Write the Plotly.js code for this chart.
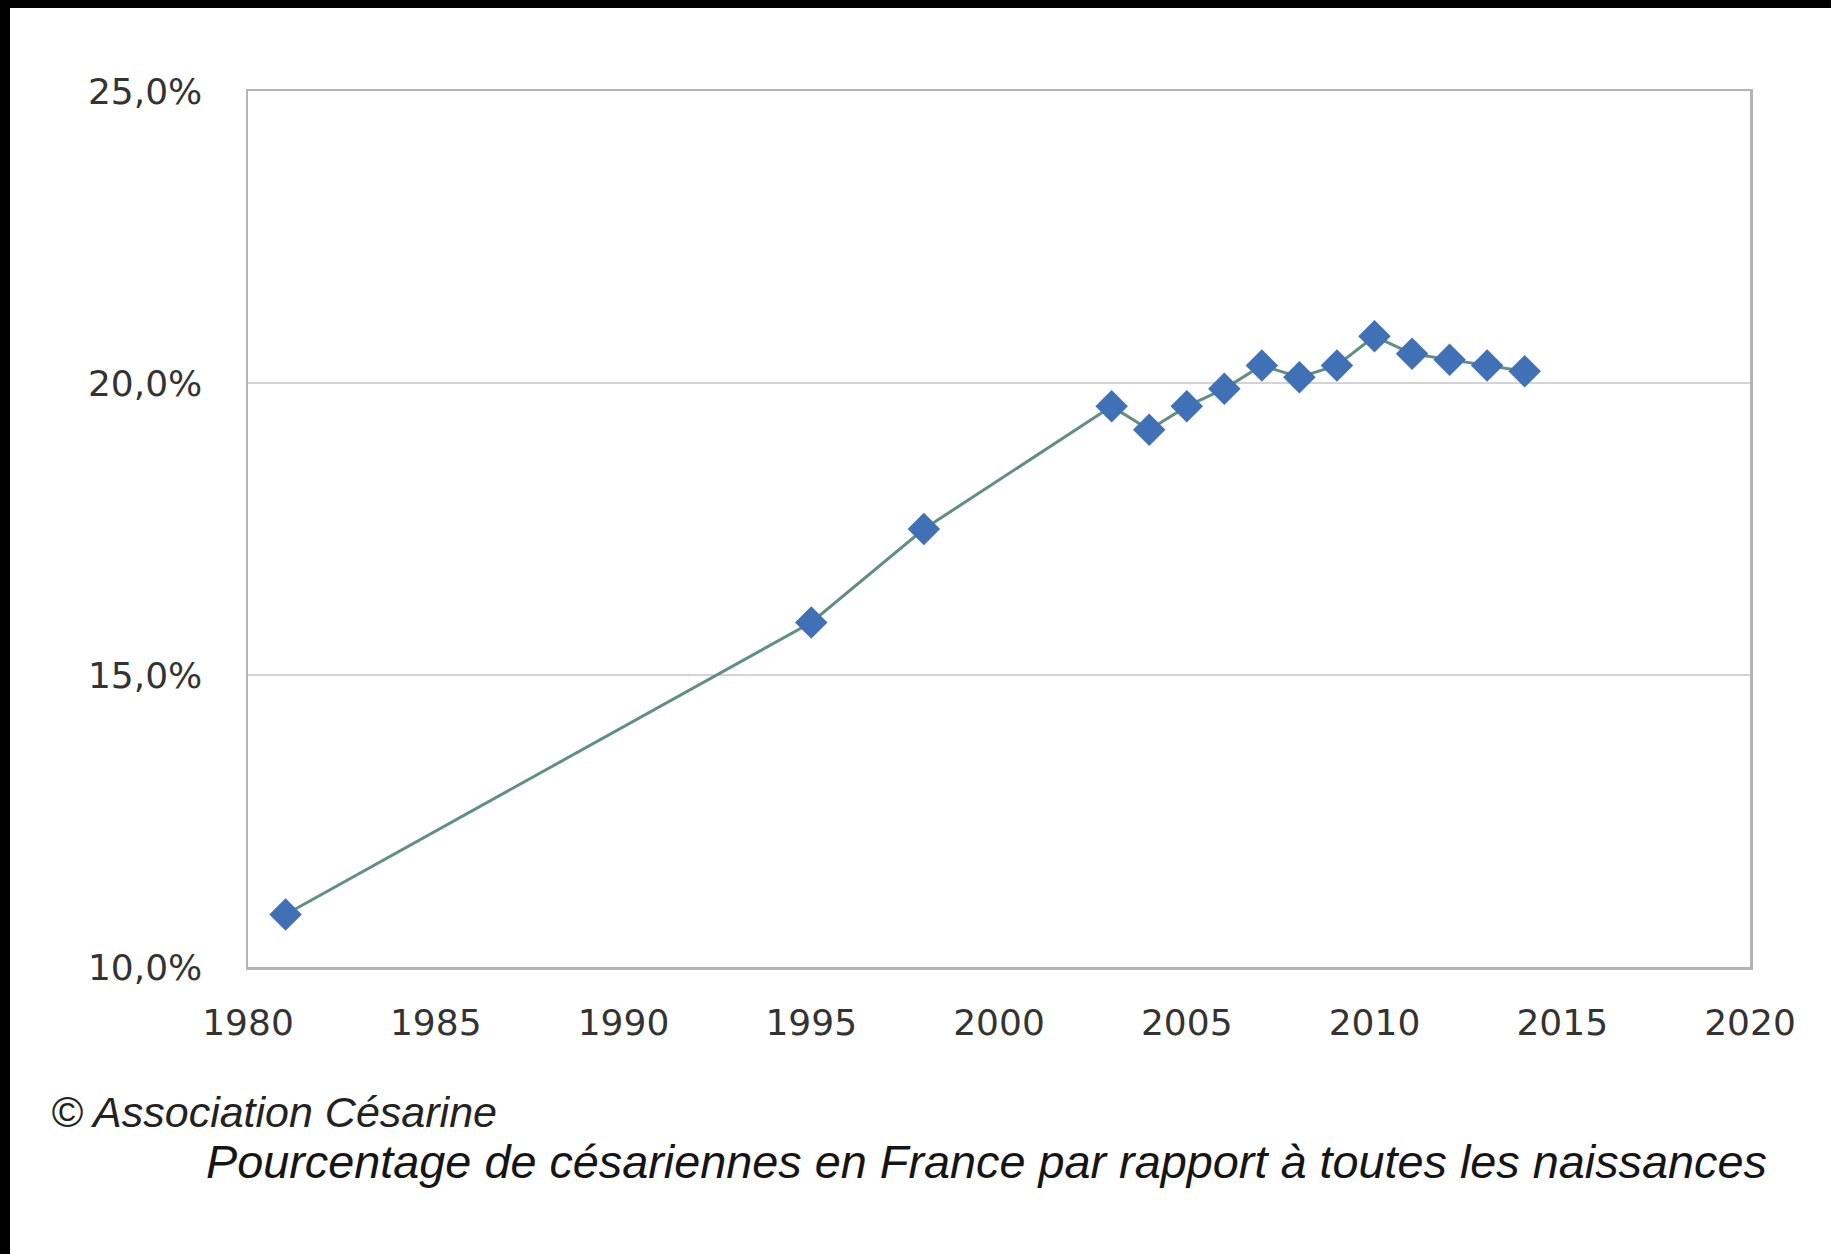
<!DOCTYPE html>
<html>
<head>
<meta charset="utf-8">
<script src="https://cdn.plot.ly/plotly-3.0.1.min.js"></script>
<style>
  html, body { margin: 0; padding: 0; background: #000; width: 1831px; height: 1254px; overflow: hidden; }
  #chart { position: absolute; left: 10px; top: 8px; width: 1821px; height: 1246px; background: #fff; }
</style>
</head>
<body>
<div id="chart"></div>
<script>
// Data
const years = [1981, 1995, 1998, 2003, 2004, 2005, 2006, 2007, 2008, 2009, 2010, 2011, 2012, 2013, 2014];
const cesareanPct = [10.9, 15.9, 17.5, 19.6, 19.2, 19.6, 19.9, 20.3, 20.1, 20.3, 20.8, 20.5, 20.4, 20.3, 20.2];
const xTickVals = [1980, 1985, 1990, 1995, 2000, 2005, 2010, 2015, 2020];
const yTickVals = [10, 15, 20, 25];
const yTickText = ["10,0%", "15,0%", "20,0%", "25,0%"];
const creditText = "© Association Césarine";
const captionText = "Pourcentage de césariennes en France par rapport à toutes les naissances";

// Plot area in page pixels
const PX0 = 248, PX1 = 1750, PY0 = 91, PY1 = 967;
const toPaperX = px => (px - PX0) / (PX1 - PX0);
const toPaperY = py => (PY1 - py) / (PY1 - PY0);

const trace = {
  x: years,
  y: cesareanPct,
  type: 'scatter',
  mode: 'lines+markers',
  line: { color: '#62907f', width: 3 },
  marker: { symbol: 'diamond', size: 25, color: '#4070b6', line: { width: 0 } },
  hoverinfo: 'x+y'
};

const tickFont = { family: 'DejaVu Sans, Verdana, sans-serif', size: 36, color: '#333333' };

const layout = {
  width: 1821,
  height: 1246,
  margin: { l: 238, r: 81, t: 83, b: 287 },
  paper_bgcolor: '#ffffff',
  plot_bgcolor: '#ffffff',
  showlegend: false,
  xaxis: {
    range: [1980, 2020],
    tickvals: xTickVals,
    ticktext: xTickVals.map(String),
    showgrid: false,
    zeroline: false,
    showline: true,
    linecolor: '#b4b4b4',
    linewidth: 2.5,
    mirror: true,
    ticks: '',
    tickfont: tickFont,
    ticklabelstandoff: 22
  },
  yaxis: {
    range: [10, 25],
    tickvals: yTickVals,
    ticktext: yTickText,
    showgrid: true,
    gridcolor: '#d4d4d4',
    gridwidth: 2,
    zeroline: false,
    showline: true,
    linecolor: '#b4b4b4',
    linewidth: 2.5,
    mirror: true,
    ticks: '',
    tickfont: tickFont,
    ticklabelstandoff: 36
  },
  annotations: [
    {
      text: creditText,
      xref: 'paper', yref: 'paper',
      x: toPaperX(49), y: toPaperY(1112),
      xanchor: 'left', yanchor: 'middle',
      showarrow: false,
      font: { family: 'Liberation Sans, Arial, sans-serif', size: 43, color: '#222222', style: 'italic' }
    },
    {
      text: captionText,
      xref: 'paper', yref: 'paper',
      x: toPaperX(204), y: toPaperY(1162),
      xanchor: 'left', yanchor: 'middle',
      showarrow: false,
      font: { family: 'Liberation Sans, Arial, sans-serif', size: 46.8, color: '#151515', style: 'italic' }
    }
  ]
};

Plotly.newPlot('chart', [trace], layout, { displayModeBar: false, staticPlot: true });
</script>
</body>
</html>
